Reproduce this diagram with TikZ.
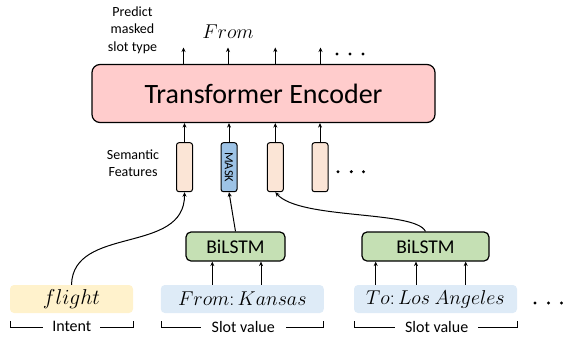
\RequirePackage{fix-cm}
\documentclass[tikz,border=0pt]{standalone}
\usepackage{fontspec}
\setmainfont{Carlito}
\usetikzlibrary{arrows.meta}
\definecolor{tfpink}{HTML}{FFCCCC}
\definecolor{featpeach}{HTML}{FBE5D6}
\definecolor{maskblue}{HTML}{9DC3E6}
\definecolor{lstmgreen}{HTML}{C5E0B4}
\definecolor{intentyellow}{HTML}{FFF2CC}
\definecolor{slotblue}{HTML}{DEEBF7}
\begin{document}
\begin{tikzpicture}[x=1pt,y=-1pt,
  arr/.style={-{Stealth[length=4.5pt,width=4pt]}, line width=1pt},
  tfbox/.style={draw, line width=1.2pt, rounded corners=8pt, fill=tfpink, minimum width=343pt, minimum height=58pt, inner sep=0pt, font=\fontsize{28}{30}\selectfont},
  featbar/.style={draw, line width=1pt, rounded corners=2.5pt, fill=featpeach, minimum width=16pt, minimum height=49pt, inner sep=0pt},
  lstmbox/.style={draw, line width=1.2pt, rounded corners=5pt, fill=lstmgreen, minimum height=29pt, inner sep=0pt, font=\fontsize{19.5}{21}\selectfont},
  inbox/.style={rounded corners=4pt, minimum height=28pt, inner sep=0pt, font=\fontsize{20}{24}\selectfont},
  mathtxt/.style={inner sep=0pt, font=\fontsize{20}{24}\selectfont},
  smalltxt/.style={align=center, inner sep=0pt, font=\fontsize{14}{17.5}\selectfont},
  brtxt/.style={fill=white, inner xsep=9pt, inner ysep=1pt, font=\fontsize{16}{18}\selectfont},
  bracket/.style={line width=0.9pt},
  dot/.style={fill=black}
]
\useasboundingbox (0,0) rectangle (563,338);

% Transformer encoder
\node[tfbox] (tf) at (263.5,93.5) {Transformer Encoder};

% output arrows
\coordinate (o1) at (183.5,47.5);
\coordinate (o2) at (228,47.5);
\coordinate (o3) at (275.3,47.5);
\coordinate (o4) at (320.5,47.5);
\foreach \o in {o1,o2,o3,o4} \draw[arr] (\o |- tf.north) -- (\o);
\node[mathtxt] (outlbl) at (228,32) {$From$};
\node[smalltxt] (pred) at (132.5,30) {Predict\\masked\\slot type};
\foreach \x in {337,350,363} \fill[dot] (\x,54) circle (1.7pt);

% semantic features
\node[smalltxt] (sem) at (133,163) {Semantic\\Features};
\node[featbar] (b1) at (184.5,167.2) {};
\node[featbar, fill=maskblue] (mask) at (229,167.2) {\fontsize{12.5}{12.5}\selectfont\rotatebox{-90}{MASK}};
\node[featbar] (b3) at (275.3,167.2) {};
\node[featbar] (b4) at (320,167.2) {};
\foreach \b in {b1,mask,b3,b4} \draw[arr] (\b.north) -- (\b.north |- tf.south);
\foreach \x in {338,351.3,363.5} \fill[dot] (\x,171.7) circle (1.7pt);

% BiLSTMs
\node[lstmbox, minimum width=99pt] (l1) at (235.5,246.5) {BiLSTM};
\node[lstmbox, minimum width=127pt] (l2) at (425.5,246.5) {BiLSTM};

% inputs
\node[inbox, fill=intentyellow, minimum width=123pt, font=\fontsize{21.5}{24}\selectfont] (intent) at (71.5,299) {$flight$};
\node[inbox, fill=slotblue, minimum width=163pt] (slot1) at (242.3,299) {$From\colon Kansas$};
\node[inbox, fill=slotblue, minimum width=163pt] (slot2) at (435.5,299) {$To\colon Los\ Angeles$};
\foreach \x in {535,548.5,561.5} \fill[dot] (\x,303) circle (1.7pt);

% input arrows into BiLSTMs
\coordinate (i1) at (212.3,275);
\coordinate (i2) at (261,275);
\coordinate (j1) at (375.7,275);
\coordinate (j2) at (416,275);
\coordinate (j3) at (465.7,275);
\foreach \c in {i1,i2} \draw[arr] (\c |- slot1.north) -- (\c |- l1.south);
\foreach \c in {j1,j2,j3} \draw[arr] (\c |- slot2.north) -- (\c |- l2.south);

% connectors to semantic features
\draw[arr] (intent.north) .. controls (73,225) and (185,255) .. (b1.south);
\draw[arr] (l1.north) -- (mask.south);
\draw[arr] (l2.north) .. controls (415,210) and (300,220) .. (b3.south);

% brackets
\draw[bracket] (10.7,321) -- (10.7,327) -- (133,327) -- (133,321);
\node[brtxt] (intlbl) at (71.8,326.5) {Intent};
\draw[bracket] (161,321) -- (161,327) -- (323.3,327) -- (323.3,321);
\node[brtxt, inner xsep=11pt] (sl1lbl) at (243.3,326.5) {Slot value};
\draw[bracket] (354.5,321) -- (354.5,327) -- (517.3,327) -- (517.3,321);
\node[brtxt, inner xsep=10pt] (sl2lbl) at (436.7,326.5) {Slot value};
\end{tikzpicture}
\end{document}
